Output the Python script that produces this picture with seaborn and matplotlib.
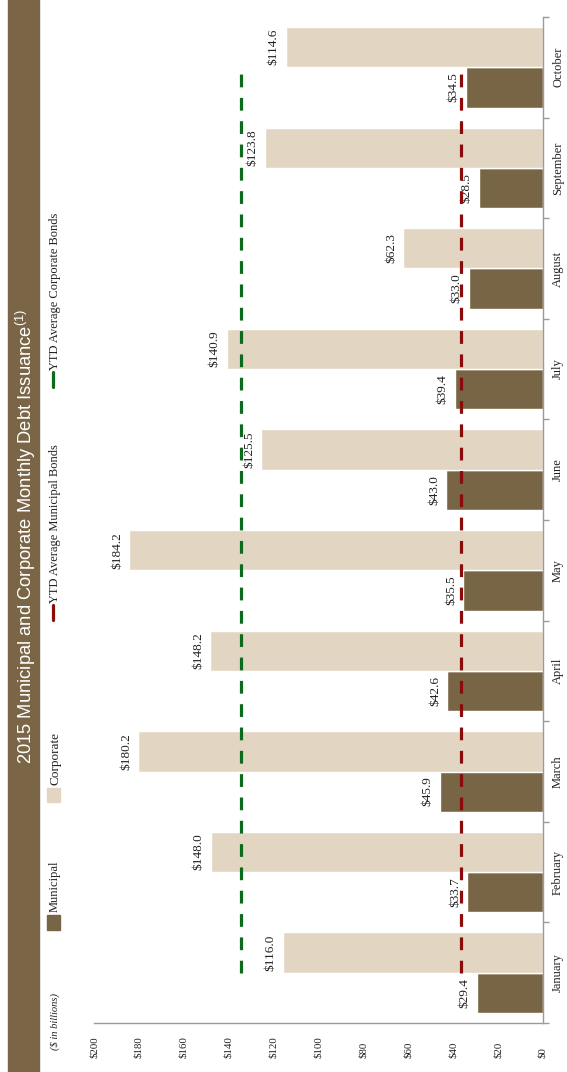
import numpy as np
import pandas as pd
import matplotlib
matplotlib.use("Agg")
import matplotlib.pyplot as plt
from matplotlib.patches import Rectangle
from matplotlib.lines import Line2D
import seaborn as sns

# ---- data ($ billions) ----
months = ["January", "February", "March", "April", "May", "June",
          "July", "August", "September", "October"]
municipal = [29.4, 33.7, 45.9, 42.6, 35.5, 43.0, 39.4, 33.0, 28.5, 34.5]
corporate = [116.0, 148.0, 180.2, 148.2, 184.2, 125.5, 140.9, 62.3, 123.8, 114.6]
value_ticks = [0, 20, 40, 60, 80, 100, 120, 140, 160, 180, 200]
tick_labels = ["$" + str(v) for v in value_ticks]
series = ["Municipal", "Corporate"]

MUN = "#786545"
CORP = "#e2d6c3"
RED = "#8b0b0b"
GREEN = "#0c6a1c"
BAND = "#7a6646"

sns.set_style("white")
plt.rcParams["font.family"] = ["Liberation Serif", "DejaVu Serif"]

W, H = 567, 1072
fig = plt.figure(figsize=(W / 100, H / 100), dpi=100)


def fx(px):
    return px / W


def fy(py):
    return 1 - py / H


ax = fig.add_axes([fx(94), fy(1023), fx(543) - fx(94), fy(17) - fy(1023)])

df = pd.DataFrame({
    "month": months * 2,
    "series": ["Municipal"] * len(months) + ["Corporate"] * len(months),
    "value": municipal + corporate,
})

sns.barplot(data=df, y="month", x="value", hue="series", orient="h",
            order=months, hue_order=series, palette=[MUN, CORP],
            saturation=1, width=0.8, legend=False, ax=ax, zorder=2)

ax.set_ylim(-0.5, len(months) - 0.5)
ax.set_xlim(200, 0)

# value labels at the bar ends
for cont in ax.containers:
    ax.bar_label(cont, fmt="${:.1f}", padding=4.5, rotation=90,
                 fontsize=9.5, color="#222222")

# year-to-date averages
idx = np.arange(len(months))
ax.plot([np.mean(municipal)] * 2, [idx[0], idx[-1]], color=RED, lw=2.3,
        linestyle=(0, (4, 3.3)), zorder=4)
ax.plot([np.mean(corporate)] * 2, [idx[0], idx[-1]], color=GREEN, lw=2.3,
        linestyle=(0, (4, 3.3)), zorder=4)

# axes styling
for side in ["left", "top"]:
    ax.spines[side].set_visible(False)
for side in ["right", "bottom"]:
    ax.spines[side].set_color("#9a9a9a")
    ax.spines[side].set_linewidth(1.0)

ax.set_xticks(value_ticks)
ax.set_xticklabels(tick_labels, rotation=90, ha="center", va="bottom",
                   fontsize=7.8, color="#222222")
ax.tick_params(axis="x", direction="out", length=4, width=1,
               color="#9a9a9a", pad=21.5)

ax.yaxis.tick_right()
ax.set_yticks(idx)
ax.set_yticklabels(months, rotation=90, ha="left", va="center",
                   fontsize=9, color="#222222")
ax.set_yticks(np.arange(-0.5, len(months), 1.0), minor=True)
ax.tick_params(axis="y", which="major", length=0, pad=6.5)
ax.tick_params(axis="y", which="minor", direction="out", length=4,
               width=1, color="#9a9a9a")
ax.set_xlabel("")
ax.set_ylabel("")

# title band
fig.patches.append(Rectangle((fx(8), 0), fx(39) - fx(8), 1,
                             transform=fig.transFigure, color=BAND,
                             zorder=0))
fig.text(fx(26), fy(536),
         r"2015 Municipal and Corporate Monthly Debt Issuance$^{\mathregular{(1)}}$",
         rotation=90, ha="center", va="center", color="white", fontsize=13.2,
         family=["Liberation Sans Narrow", "Liberation Sans", "DejaVu Sans"])

# legend
fig.text(fx(55), fy(1050), "($ in billions)", rotation=90, ha="center",
         va="bottom", fontsize=7.6, style="italic", color="#222222")

fig.patches.append(Rectangle((fx(47), fy(930)), fx(60) - fx(47),
                             fy(915) - fy(930), transform=fig.transFigure,
                             color=MUN))
fig.text(fx(55), fy(912), "Municipal", rotation=90, ha="center",
         va="bottom", fontsize=9, color="#222222")

fig.patches.append(Rectangle((fx(47), fy(802)), fx(60) - fx(47),
                             fy(788) - fy(802), transform=fig.transFigure,
                             color=CORP))
fig.text(fx(55), fy(785), "Corporate", rotation=90, ha="center",
         va="bottom", fontsize=9.5, color="#222222")

fig.lines.append(Line2D([fx(52.5)] * 2, [fy(620), fy(605)],
                        transform=fig.transFigure, color=RED, lw=2.3))
fig.text(fx(55), fy(603), "YTD Average Municipal Bonds", rotation=90,
         ha="center", va="bottom", fontsize=9, color="#222222")

fig.lines.append(Line2D([fx(52.5)] * 2, [fy(387), fy(372)],
                        transform=fig.transFigure, color=GREEN, lw=2.3))
fig.text(fx(55), fy(370), "YTD Average Corporate Bonds", rotation=90,
         ha="center", va="bottom", fontsize=9, color="#222222")

fig.savefig("out.png", dpi=100)
